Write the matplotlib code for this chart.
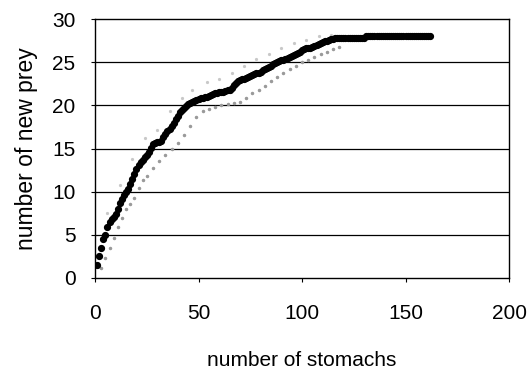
"""Cumulative prey curve: new prey types vs. number of stomachs examined."""

import matplotlib

matplotlib.use("Agg")
import matplotlib.pyplot as plt
import numpy as np

# mean cumulative number of new prey, stomachs 1..162
stomachs = np.arange(1, 163)
new_prey = [
    1.5, 2.5, 3.5, 4.5, 5.0, 5.9, 6.5, 6.8, 7.1, 7.4,
    8.0, 8.7, 9.2, 9.6, 10.0, 10.3, 10.9, 11.5, 12.0, 12.6,
    13.1, 13.4, 13.7, 14.0, 14.3, 14.6, 15.1, 15.5, 15.6, 15.7,
    15.8, 15.9, 16.3, 16.7, 17.0, 17.3, 17.6, 18.0, 18.4, 18.8,
    19.2, 19.5, 19.7, 19.9, 20.1, 20.3, 20.4, 20.5, 20.6, 20.7,
    20.8, 20.9, 21.0, 21.0, 21.1, 21.2, 21.3, 21.4, 21.4, 21.5,
    21.6, 21.6, 21.7, 21.8, 21.8, 22.0, 22.3, 22.6, 22.8, 22.9,
    23.0, 23.1, 23.2, 23.3, 23.4, 23.5, 23.6, 23.7, 23.8, 23.9,
    24.1, 24.2, 24.3, 24.5, 24.6, 24.8, 24.9, 25.0, 25.1, 25.2,
    25.3, 25.4, 25.5, 25.6, 25.7, 25.8, 26.0, 26.1, 26.2, 26.4,
    26.5, 26.6, 26.6, 26.7, 26.8, 26.9, 27.0, 27.1, 27.2, 27.3,
    27.4, 27.5, 27.6, 27.7, 27.7, 27.8, 27.8, 27.8, 27.8, 27.8,
    27.8, 27.8, 27.8, 27.8, 27.8, 27.8, 27.8, 27.8, 27.8, 27.8,
    28.0, 28.0, 28.0, 28.0, 28.0, 28.0, 28.0, 28.0, 28.0, 28.0,
    28.0, 28.0, 28.0, 28.0, 28.0, 28.0, 28.0, 28.0, 28.0, 28.0,
    28.0, 28.0, 28.0, 28.0, 28.0, 28.0, 28.0, 28.0, 28.0, 28.0,
    28.0, 28.0,
]

# faint bounds around the curve (printed in light grey)
lower_x = [3, 5, 7, 9, 11, 13, 15, 17, 19, 21, 23, 25, 28, 31, 34, 37, 40, 43,
           46, 49, 52, 55, 58, 61, 64, 67, 70, 73, 76, 79, 82, 85, 88, 91, 94,
           97, 100, 103, 106, 109, 112, 115, 118]
lower_y = [1.2, 2.3, 3.5, 4.6, 5.9, 7.0, 8.0, 8.6, 9.3, 10.4, 11.3, 11.8, 12.8,
           13.6, 14.2, 15.0, 15.6, 16.6, 17.6, 18.6, 19.3, 19.6, 19.8, 20.0,
           20.2, 20.3, 20.4, 20.8, 21.4, 21.8, 22.2, 22.8, 23.3, 23.8, 24.2,
           24.6, 25.0, 25.3, 25.6, 25.9, 26.2, 26.5, 26.8]
upper_x = [6, 12, 18, 24, 30, 36, 42, 47, 54, 60, 66, 72, 78, 84, 90, 96, 102,
           108, 114]
upper_y = [7.5, 10.8, 13.8, 16.2, 17.2, 19.4, 20.9, 21.8, 22.7, 23.0, 23.8,
           24.6, 25.4, 26.0, 26.7, 27.2, 27.6, 28.0, 28.2]

plt.rcParams["font.family"] = ["Liberation Sans", "DejaVu Sans"]

fig = plt.figure(figsize=(5.31, 3.73), dpi=100)
ax = fig.add_axes([0.179, 0.2547, 0.7796, 0.6943])

for y in range(5, 30, 5):
    ax.axhline(y, color="black", linewidth=0.9, zorder=1)

ax.plot(upper_x, upper_y, linestyle="none", marker="o", markersize=1.3,
        color="#c8c8c8", zorder=2)
ax.plot(lower_x, lower_y, linestyle="none", marker="o", markersize=1.5,
        color="#9a9a9a", zorder=2)
ax.plot(stomachs, new_prey, linestyle="none", marker="o", markersize=4.2,
        color="black", zorder=3)

ax.set_xlim(0, 200)
ax.set_ylim(0, 30)
ax.set_xticks([0, 50, 100, 150, 200])
ax.set_yticks(range(0, 31, 5))

for side in ("left", "bottom", "top", "right"):
    ax.spines[side].set_color("black")
    ax.spines[side].set_linewidth(1.0)

ax.tick_params(axis="both", direction="out", length=3, width=0.8,
               labelsize=15, colors="black")
ax.tick_params(axis="x", pad=16)
ax.tick_params(axis="y", pad=11)

ax.set_xlabel("number of stomachs", fontsize=15, labelpad=20)
ax.set_ylabel("number of new prey", fontsize=16.5, labelpad=10)

fig.savefig("out.png", dpi=100)
